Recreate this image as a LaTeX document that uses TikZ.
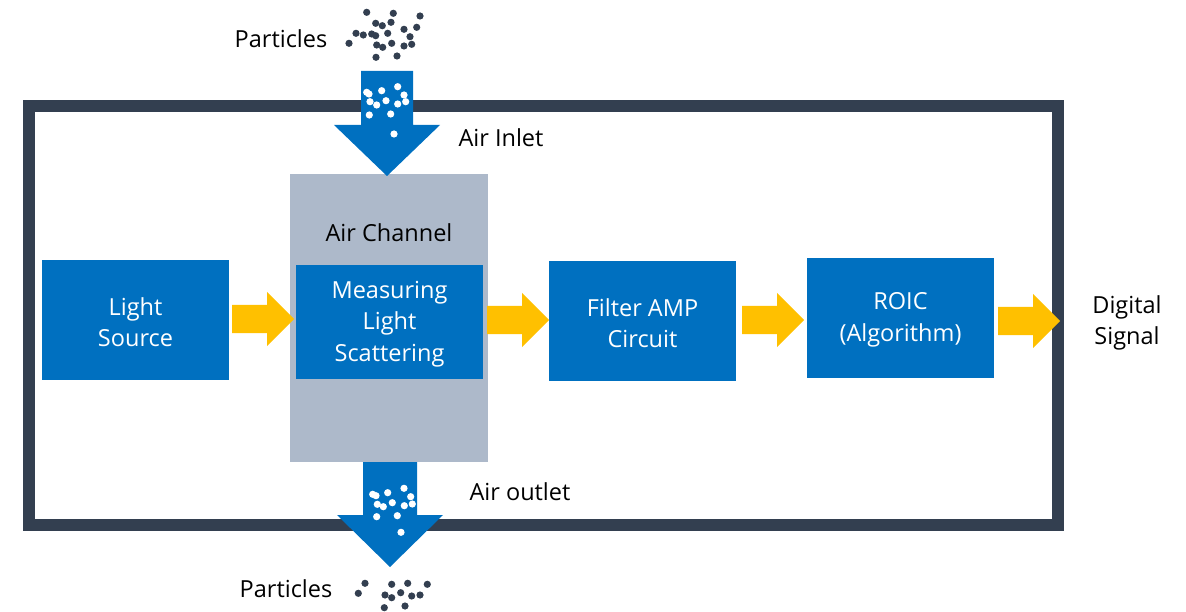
\documentclass[tikz,border=0pt]{standalone}
\usepackage{fontspec}
\setmainfont{Open Sans}
\definecolor{frameC}{HTML}{333F50}
\definecolor{blueC}{HTML}{0070C0}
\definecolor{grayC}{HTML}{ADB9CA}
\definecolor{yellowC}{HTML}{FFC000}
\begin{document}
\begin{tikzpicture}[x=1pt,y=-1pt,
  txt/.style={font=\fontsize{23.5}{31.5}\selectfont, align=center, inner sep=0pt},
  wtxt/.style={txt, text=white},
  bluebox/.style={fill=blueC, draw=none},
  yarr/.pic={\fill[yellowC] (0,-14)--(35,-14)--(35,-27)--(62,0)--(35,27)--(35,14)--(0,14)--cycle;},
  pdot/.style={fill=frameC},
  wdot/.style={fill=white}]
\useasboundingbox (0,0) rectangle (1186,612);
% outer frame
\draw[frameC, line width=12pt] (28.5,106.5) rectangle (1058,525);
% gray channel
\fill[grayC] (290,174) rectangle (488,462);
\node[txt] (chan) at (389,233) {Air Channel};
% boxes
\fill[bluebox] (42,260) rectangle (229,380);
\node[wtxt] (ls) at (135.5,322) {Light\\Source};
\fill[bluebox] (296,265) rectangle (483,379);
\node[wtxt] (ms) at (389.5,324) {Measuring\\Light\\Scattering};
\fill[bluebox] (549,261) rectangle (736,381);
\node[wtxt] (fa) at (642.5,323) {Filter AMP\\Circuit};
\fill[bluebox] (807,258) rectangle (994,378);
\node[wtxt] (ro) at (900.5,320) {ROIC\\(Algorithm)};
% yellow arrows
\pic at (232,319) {yarr};
\pic at (487,320) {yarr};
\pic at (742,320) {yarr};
\pic at (998,321) {yarr};
\node[txt] (ds) at (1127,323) {Digital\\Signal};
% top blue arrow
\fill[blueC] (361,71)--(413,71)--(413,125)--(440,125)--(387,176)--(334,125)--(361,125)--cycle;
% bottom blue arrow
\fill[blueC] (363,462)--(417,462)--(417,515)--(443,515)--(390,567)--(337,515)--(363,515)--cycle;
% labels
\node[txt] (p1) at (281,39) {Particles};
\node[txt] (ai) at (501,138) {Air Inlet};
\node[txt] (ao) at (520,492) {Air outlet};
\node[txt] (p2) at (286,589) {Particles};
% top particles
\foreach \x/\y in {366.7/12.3,393.3/13.3,420/16,375.7/23.3,382.3/25.7,391/22.3,416.7/27.3,404/29.3,356/33.3,363.3/35,371.7/34,375.7/35.7,387.7/33.3,410/36.7,349/43.3,376.7/45,382.7/47.3,391.7/43.3,404/46,411.7/44.3,376/57.3,397/56}
  \fill[pdot] (\x,\y) circle (3.6);
% white dots top arrow
\foreach \x/\y in {366.7/92.3,369/94,381.7/90.7,397.7/86.7,404/95,370/101.7,376.7/105,386/100.7,397.7/104,405.7/101.7,369.3/115,390.7/114,394/134}
  \fill[wdot] (\x,\y) circle (3.6);
% white dots bottom arrow
\foreach \x/\y in {372.7/494.3,376/495.7,387.7/492.7,404/488.3,410.7/496.7,377.3/504.3,383.3/506.7,392.3/502.7,404.3/505.7,412.3/504,376.7/516.7,397.3/515.7,401/532.3}
  \fill[wdot] (\x,\y) circle (3.6);
% bottom particles
\foreach \x/\y in {365/583.3,358.3/593.3,391.7/584.3,407.7/583.3,427.3/584.3,385/595,391.7/597.7,400.7/592.7,411.7/596,420/595,384.3/607.7,405/606}
  \fill[pdot] (\x,\y) circle (3.6);
\end{tikzpicture}
\end{document}
